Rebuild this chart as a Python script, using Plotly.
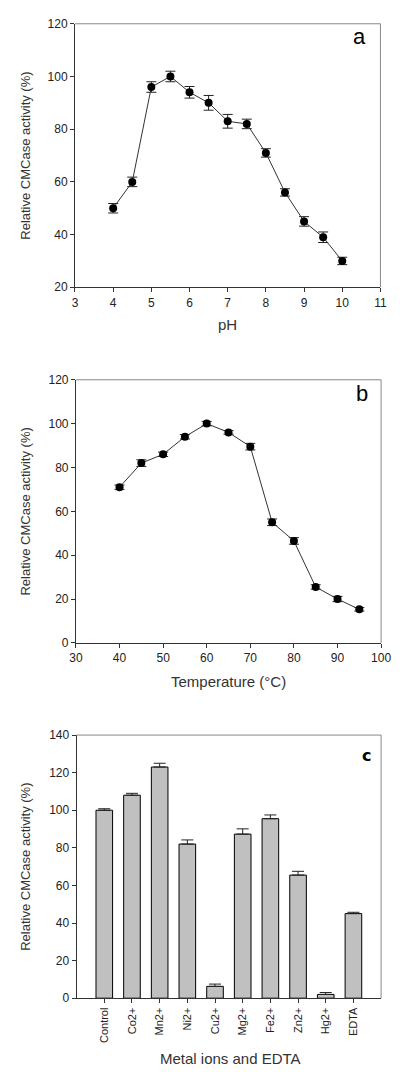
import plotly.graph_objects as go

# Panel a: pH
ph = [4, 4.5, 5, 5.5, 6, 6.5, 7, 7.5, 8, 8.5, 9, 9.5, 10]
ph_activity = [50, 60, 96, 100, 94, 90, 83, 82, 71, 56, 45, 39, 30]
ph_err = [1.8, 1.8, 2.0, 2.0, 2.2, 2.8, 2.6, 1.8, 1.6, 1.4, 1.8, 2.0, 1.4]

# Panel b: temperature
temp = [40, 45, 50, 55, 60, 65, 70, 75, 80, 85, 90, 95]
temp_activity = [71, 82, 86, 94, 100, 96, 89.5, 55, 46.5, 25.5, 20, 15.3]
temp_err = [1.0, 1.5, 1.0, 1.0, 1.0, 0.8, 1.5, 1.5, 1.5, 1.0, 1.2, 0.8]

# Panel c: metal ions
metals = ["Control", "Co2+", "Mn2+", "Ni2+", "Cu2+", "Mg2+", "Fe2+", "Zn2+", "Hg2+", "EDTA"]
metal_activity = [100, 108, 123, 82, 6.3, 87.3, 95.5, 65.5, 2.0, 45]
metal_err = [0.8, 1.0, 2.0, 2.2, 1.2, 2.8, 2.0, 2.0, 1.0, 0.7]

W, H = 400, 1072
FONT = "Liberation Sans, Arial, sans-serif"
TXT = "#222"


def px_x(p):
    return p / W


def px_y(p):
    return 1 - p / H


fig = go.Figure()

fig.add_trace(go.Scatter(
    x=ph, y=ph_activity, mode="lines+markers", xaxis="x", yaxis="y",
    line=dict(color="#333", width=1),
    marker=dict(color="black", size=8),
    error_y=dict(type="data", array=ph_err, color="#222", thickness=1, width=5),
    showlegend=False))

fig.add_trace(go.Scatter(
    x=temp, y=temp_activity, mode="lines+markers", xaxis="x2", yaxis="y2",
    line=dict(color="#333", width=1),
    marker=dict(color="black", size=8),
    error_y=dict(type="data", array=temp_err, color="#222", thickness=1, width=5),
    showlegend=False))

fig.add_trace(go.Bar(
    x=list(range(len(metals))), y=metal_activity, xaxis="x3", yaxis="y3",
    width=0.6,
    marker=dict(color="#c0c0c0", line=dict(color="black", width=1)),
    error_y=dict(type="data", symmetric=False, array=metal_err,
                 arrayminus=[0] * len(metals), color="#222", thickness=1, width=6),
    showlegend=False))

panels = [
    # (xdomain px, ydomain px, xrange, yrange, xdtick, ydtick)
    ((71, 390), (17, 284), [3, 11], [20, 120], 1, 20),
    ((72, 390.7), (377.7, 644.3), [30, 100], [0, 120], 10, 20),
    ((72.7, 390.7), (737.7, 1004.3), [-1, 10], [0, 140], 1, 20),
]

axis_common = dict(showgrid=False, zeroline=False, showline=True,
                   linecolor="#333", linewidth=1, ticks="outside",
                   ticklen=4, tickcolor="#333",
                   tickfont=dict(family=FONT, size=12, color=TXT))

for i, (xd, yd, xr, yr, dx, dy) in enumerate(panels):
    sfx = "" if i == 0 else str(i + 1)
    xa = dict(axis_common, domain=[px_x(xd[0]), px_x(xd[1])], range=xr,
              anchor="y" + sfx, dtick=dx, tick0=0)
    if i == 2:
        xa.update(tickmode="array", tickvals=list(range(len(metals))),
                  ticktext=metals, tickangle=-90,
                  tickfont=dict(family=FONT, size=11, color=TXT))
    ya = dict(axis_common, domain=[px_y(yd[1]), px_y(yd[0])], range=yr,
              anchor="x" + sfx, dtick=dy, tick0=0)
    fig.update_layout({"xaxis" + sfx: xa, "yaxis" + sfx: ya})
    # gray top and right frame lines
    fig.add_shape(type="line", xref="paper", yref="paper",
                  x0=px_x(xd[0]), x1=px_x(xd[1]), y0=px_y(yd[0]), y1=px_y(yd[0]),
                  line=dict(color="#888", width=1))
    fig.add_shape(type="line", xref="paper", yref="paper",
                  x0=px_x(xd[1]), x1=px_x(xd[1]), y0=px_y(yd[0]), y1=px_y(yd[1]),
                  line=dict(color="#888", width=1))
    # y axis title
    fig.add_annotation(text="Relative CMCase activity (%)", xref="paper", yref="paper",
                       x=px_x(19), y=px_y((yd[0] + yd[1]) / 2), textangle=-90,
                       showarrow=False, xanchor="center", yanchor="middle",
                       font=dict(family=FONT, size=13, color="#333"))


def label(text, x, y, size, family=FONT, color="#333"):
    fig.add_annotation(text=text, xref="paper", yref="paper", x=px_x(x), y=px_y(y),
                       showarrow=False, xanchor="center", yanchor="middle",
                       font=dict(family=family, size=size, color=color))


# x axis titles
label("pH", 230, 322, 15)
label("Temperature (°C)", 231, 683, 15)
label("Metal ions and EDTA", 233, 1065, 15)

# panel letters
label("a", 368, 30, 22, color="black")
label("b", 371, 392, 22, color="black")
label("<b>c</b>", 375, 758, 16, family="DejaVu Sans, sans-serif", color="black")

fig.update_layout(width=W, height=H, margin=dict(l=0, r=0, t=0, b=0),
                  paper_bgcolor="white", plot_bgcolor="white",
                  font=dict(family=FONT, color=TXT))

fig.write_html("out.html", config={"displayModeBar": False},
               post_script="document.body.style.margin='0';document.body.style.overflow='hidden';")
